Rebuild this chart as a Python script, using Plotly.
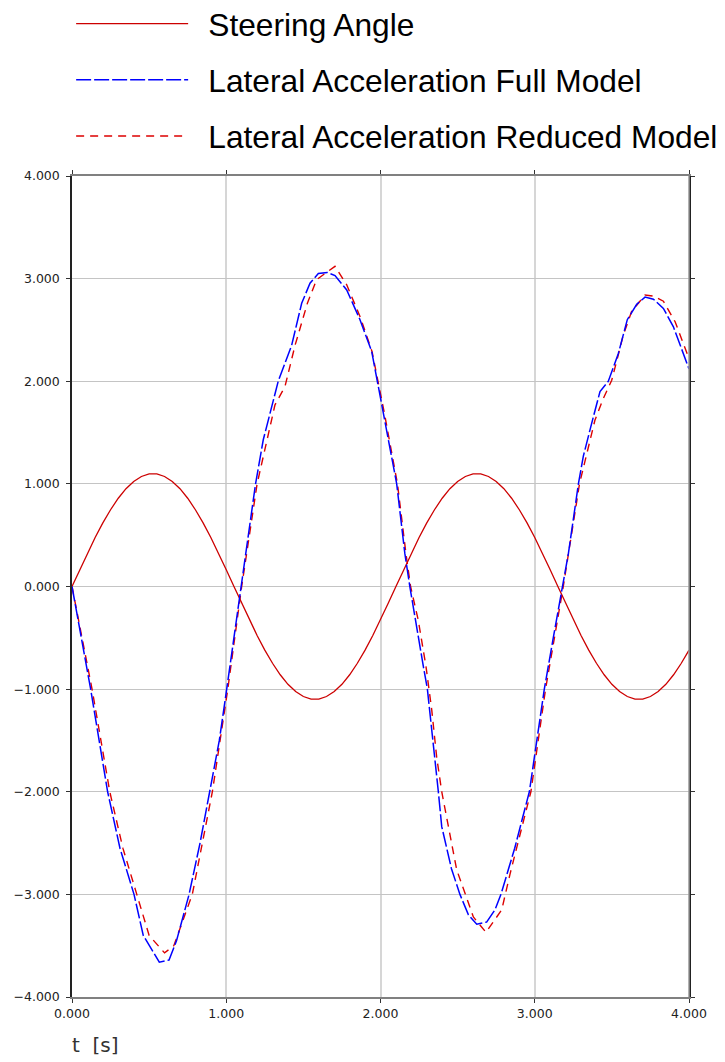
import plotly.graph_objects as go

# ---- data ----
steer_t = [0.0, 0.05, 0.1, 0.15, 0.2, 0.25, 0.3, 0.35, 0.4, 0.45, 0.5, 0.55, 0.6, 0.65,
           0.7, 0.75, 0.8, 0.85, 0.9, 0.95, 1.0, 1.05, 1.1, 1.15, 1.2, 1.25, 1.3, 1.35,
           1.4, 1.45, 1.5, 1.55, 1.6, 1.65, 1.7, 1.75, 1.8, 1.85, 1.9, 1.95, 2.0, 2.05,
           2.1, 2.15, 2.2, 2.25, 2.3, 2.35, 2.4, 2.45, 2.5, 2.55, 2.6, 2.65, 2.7, 2.75,
           2.8, 2.85, 2.9, 2.95, 3.0, 3.05, 3.1, 3.15, 3.2, 3.25, 3.3, 3.35, 3.4, 3.45,
           3.5, 3.55, 3.6, 3.65, 3.7, 3.75, 3.8, 3.85, 3.9, 3.95, 4.0]
steer_v = [0.0, 0.164, 0.324, 0.477, 0.620, 0.748, 0.860, 0.953, 1.024, 1.072, 1.097,
           1.097, 1.072, 1.024, 0.953, 0.860, 0.748, 0.620, 0.477, 0.324, 0.164,
           0.0, -0.164, -0.324, -0.477, -0.620, -0.748, -0.860, -0.953, -1.024, -1.072,
           -1.097, -1.097, -1.072, -1.024, -0.953, -0.860, -0.748, -0.620, -0.477, -0.324,
           -0.164,
           0.0, 0.164, 0.324, 0.477, 0.620, 0.748, 0.860, 0.953, 1.024, 1.072, 1.097,
           1.097, 1.072, 1.024, 0.953, 0.860, 0.748, 0.620, 0.477, 0.324, 0.164,
           0.0, -0.164, -0.324, -0.477, -0.620, -0.748, -0.860, -0.953, -1.024, -1.072,
           -1.097, -1.097, -1.072, -1.024, -0.953, -0.860, -0.748, -0.620]

full_t = [0.0, 0.06, 0.121, 0.231, 0.311, 0.402, 0.462, 0.566, 0.629, 0.678, 0.759, 0.830,
          0.895, 0.955, 1.003, 1.05, 1.096, 1.19, 1.24, 1.295, 1.337, 1.424, 1.489, 1.543,
          1.597, 1.655, 1.705, 1.781, 1.867, 1.943, 2.018, 2.105, 2.158, 2.19, 2.278, 2.304,
          2.375, 2.397, 2.46, 2.515, 2.57, 2.624, 2.688, 2.742, 2.781, 2.87, 2.965, 3.062,
          3.12, 3.18, 3.218, 3.283, 3.315, 3.369, 3.423, 3.477, 3.542, 3.6, 3.661, 3.715,
          3.769, 3.834, 3.899, 4.0]
full_v = [0.0, -0.50, -1.0, -2.0, -2.55, -3.0, -3.40, -3.66, -3.64, -3.45, -3.0, -2.5,
          -2.0, -1.5, -1.0, -0.5, 0.0, 1.0, 1.43, 1.75, 2.0, 2.35, 2.76, 2.955,
          3.05, 3.06, 3.03, 2.89, 2.60, 2.29, 1.69, 1.0, 0.32, 0.0, -0.78, -1.0,
          -2.0, -2.34, -2.75, -3.0, -3.2, -3.29, -3.27, -3.15, -3.0, -2.55, -2.0, -1.0,
          -0.5, 0.0, 0.32, 1.0, 1.27, 1.59, 1.90, 2.0, 2.27, 2.60, 2.75, 2.82,
          2.80, 2.71, 2.53, 2.12]

red_t = [0.0, 0.065, 0.13, 0.245, 0.33, 0.42, 0.50, 0.60, 0.66, 0.78, 0.91, 1.01, 1.10,
         1.20, 1.316, 1.381, 1.446, 1.526, 1.586, 1.705, 1.781, 1.87, 1.945, 2.025, 2.11,
         2.165, 2.195, 2.245, 2.295, 2.332, 2.364, 2.397, 2.44, 2.494, 2.548, 2.602, 2.684,
         2.786, 2.84, 2.915, 2.975, 3.07, 3.185, 3.29, 3.358, 3.39, 3.444, 3.499, 3.542,
         3.574, 3.628, 3.715, 3.769, 3.834, 3.91, 3.964, 4.0]
red_v = [0.0, -0.50, -1.0, -2.0, -2.55, -3.0, -3.40, -3.57, -3.50, -3.0, -2.0, -1.0, 0.0,
         1.0, 1.77, 1.95, 2.35, 2.76, 2.99, 3.12, 2.94, 2.62, 2.29, 1.69, 1.0,
         0.32, 0.0, -0.33, -0.78, -1.2, -1.66, -2.0, -2.34, -2.76, -2.99, -3.22, -3.37,
         -3.15, -2.80, -2.34, -2.0, -1.0, 0.0, 1.0, 1.43, 1.62, 1.83, 2.01, 2.26,
         2.45, 2.68, 2.84, 2.83, 2.78, 2.58, 2.37, 2.22]

names = ["Steering Angle", "Lateral Acceleration Full Model", "Lateral Acceleration Reduced Model"]
tick_vals = [-4, -3, -2, -1, 0, 1, 2, 3, 4]
x_ticks = [0, 1, 2, 3, 4]
pad = "\u00a0\u2009"

fig = go.Figure()
fig.add_trace(go.Scatter(x=steer_t, y=steer_v, mode="lines", name=pad + names[0],
                         line=dict(color="#cc0000", width=1.3), legendrank=1, legendgroup="a"))
fig.add_trace(go.Scatter(x=red_t, y=red_v, mode="lines", name=pad + names[2],
                         line=dict(color="#dd0000", width=1.4, dash="8px,6px"), legendrank=3, legendgroup="c"))
fig.add_trace(go.Scatter(x=full_t, y=full_v, mode="lines", name=pad + names[1],
                         line=dict(color="#0000ff", width=1.5, dash="15px,3px"), legendrank=2, legendgroup="b"))

tickfont = dict(family="DejaVu Sans", size=12.5, color="#222")
fig.update_layout(
    width=717, height=1054,
    margin=dict(l=64, r=36, t=168, b=65, autoexpand=False),
    plot_bgcolor="white", paper_bgcolor="white",
    showlegend=True,
    legend=dict(x=-0.0014, y=1.2186, xanchor="left", yanchor="top",
                font=dict(family="Liberation Sans, Arial", size=31.7, color="black"),
                itemwidth=112, tracegroupgap=12, bgcolor="rgba(0,0,0,0)"),
    xaxis=dict(range=[0, 4], tickvals=x_ticks, tickformat=".3f", showgrid=True,
               gridcolor="#d6d6d6", gridwidth=1.5, zeroline=False, showline=True,
               linecolor="#808080", linewidth=2, mirror="ticks", ticks="outside",
               ticklen=4, tickcolor="#333", tickfont=tickfont),
    yaxis=dict(range=[-4, 4], tickvals=tick_vals, tickformat=".3f", showgrid=True,
               gridcolor="#c4c4c4", gridwidth=1, zeroline=False, showline=True,
               linecolor="#222", linewidth=1.5, mirror="ticks", ticks="outside", ticklen=4,
               tickcolor="#333", tickfont=tickfont, ticklabelstandoff=4),
    shapes=[dict(type="line", xref="paper", yref="paper", x0=1, x1=1, y0=0, y1=1,
                 line=dict(color="#999", width=1.5))],
    annotations=[dict(text="t&nbsp;&nbsp;[s]", xref="paper", yref="paper", x=-0.004, y=0,
                      xanchor="left", yanchor="top", yshift=-34, showarrow=False,
                      font=dict(family="DejaVu Sans", size=20, color="#333"))],
)

fig.write_html("out.html")
